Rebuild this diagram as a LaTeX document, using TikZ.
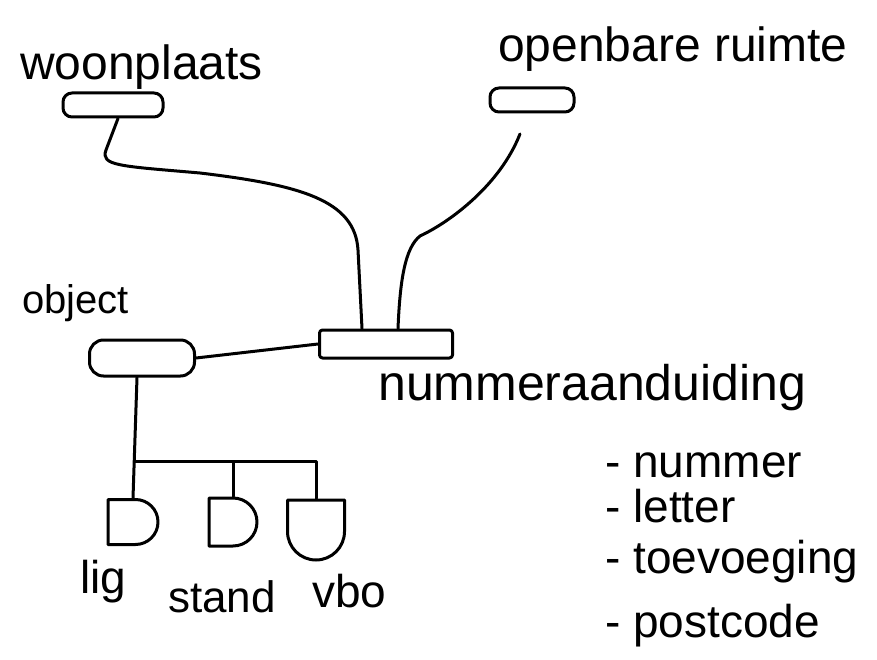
\documentclass[tikz,border=0pt]{standalone}
\usepackage{fontspec}
\setmainfont{Liberation Sans}
\usetikzlibrary{shapes.misc,calc}
\begin{document}
\begin{tikzpicture}[x=1pt,y=-1pt,
  ink/.style={line width=3pt, line cap=round, line join=round},
  entity/.style={ink, draw, rounded corners=9pt, inner sep=0pt},
  dshape/.style={ink, draw, rounded rectangle, rounded rectangle west arc=none, inner sep=0pt},
  lbl/.style={inner sep=0pt, anchor=base west},
  fs/.style={font=\fontsize{#1}{#1}\selectfont},
]
\useasboundingbox (0,0) rectangle (877,660);

% entity boxes
\node[entity, minimum width=100pt, minimum height=24pt] (wpbox) at (113,105) {};
\node[entity, minimum width=84pt, minimum height=24pt] (orbox) at (532,100) {};
\node[entity, minimum width=105pt, minimum height=36pt, rounded corners=14pt] (objbox) at (142,358) {};
\node[entity, minimum width=133pt, minimum height=28pt, rounded corners=3pt] (nabox) at (386,344) {};

% subtypes of object
\node[dshape, minimum width=50pt, minimum height=45pt] (ligbox) at (133,522) {};
\node[dshape, minimum width=45pt, minimum height=48pt] (standbox) at (233,522) {};
\node[dshape, minimum width=60pt, minimum height=57pt, rotate=-90] (vbobox) at (316,530) {};

% labels
\node[lbl, fs=48] (wplbl) at (20,80) {woonplaats};
\node[lbl, fs=48] (orlbl) at (498,62) {openbare ruimte};
\node[lbl, fs=40] (objlbl) at (22,313) {object};
\node[lbl, fs=50] (nalbl) at (378,400) {nummeraanduiding};
\node[lbl, fs=46] (attr1) at (605,477) {- nummer};
\node[lbl, fs=46] (attr2) at (605,522) {- letter};
\node[lbl, fs=46] (attr3) at (605,573) {- toevoeging};
\node[lbl, fs=46] (attr4) at (605,637) {- postcode};
\node[lbl, fs=46] (liglbl) at (80,593) {lig};
\node[lbl, fs=44] (standlbl) at (168,612) {stand};
\node[lbl, fs=46] (vbolbl) at (312,607) {vbo};

% connectors
\draw[ink] ([xshift=5pt]wpbox.south) -- (106,150)
  .. controls (100,166) and (120,166) .. (200,173)
  .. controls (300,185) and (355,200) .. (358,250)
  -- ([xshift=-24pt]nabox.north);
\draw[ink, shorten <=22pt] ([xshift=-4pt]orbox.south)
  .. controls (500,185) and (450,222) .. (420,236)
  .. controls (405,248) and (400,280) .. ([xshift=12pt]nabox.north);
\draw[ink] (objbox.east) -- (nabox.west);

\coordinate (branch) at ($(objbox.south)!0.7!(ligbox.north)$);
\draw[ink] ([xshift=-5pt]objbox.south) -- (ligbox.north);
\draw[ink] (branch) -| (standbox.north);
\draw[ink] (branch) -| (vbobox.west);
\end{tikzpicture}
\end{document}
